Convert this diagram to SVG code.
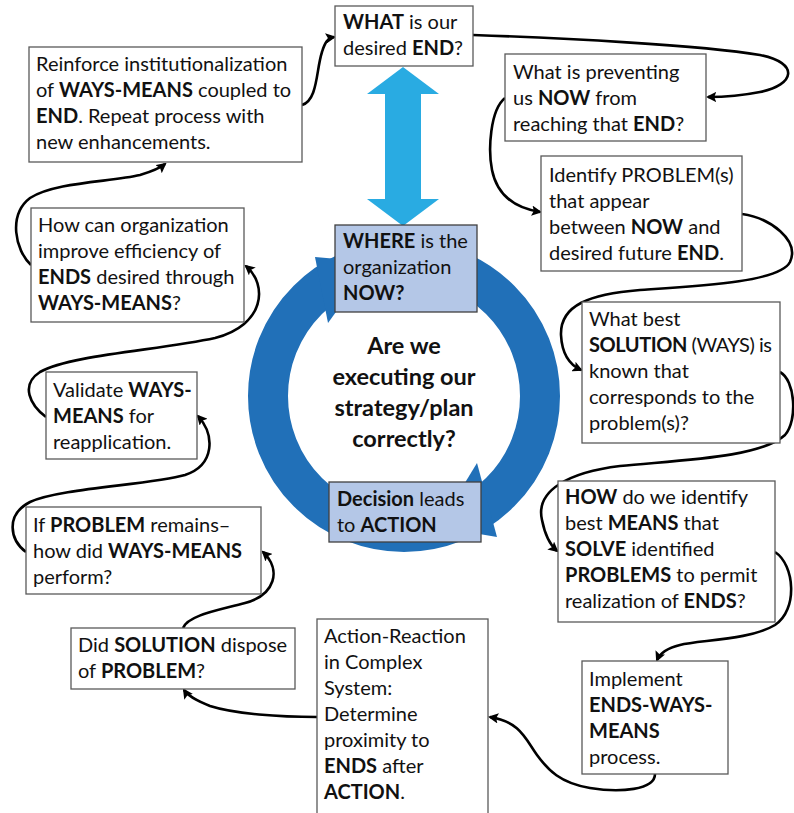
<svg xmlns="http://www.w3.org/2000/svg" width="794" height="813" viewBox="0 0 794 813">
  <style>
    .t{font-family:Lato,"Liberation Sans",sans-serif;font-size:20px;fill:#111}
    .c{font-family:Lato,"Liberation Sans",sans-serif;font-size:23.5px;font-weight:bold;fill:#111;text-anchor:middle}
    .b{font-weight:bold}
    .box{fill:#fff;stroke:#595959;stroke-width:1.3}
    .hl{fill:#b4c7e7;stroke:#404040;stroke-width:1.3}
    .conn{fill:none;stroke:#000;stroke-width:2.6;marker-end:url(#ah)}
  </style>
  <defs>
    <marker id="ah" viewBox="0 0 10 10" refX="8" refY="5" markerWidth="4" markerHeight="4" orient="auto" markerUnits="strokeWidth">
      <path d="M0,0 L10,5 L0,10 L2,5 z" fill="#000"/>
    </marker>
  </defs>

  <!-- circular cycle ring with two clockwise arrowheads -->
  <g id="cycle">
    <circle cx="404" cy="396" r="136" fill="none" stroke="#2170b8" stroke-width="40"/>
    <polygon points="315,257 372,262 328,323" fill="#2170b8"/>
    <polygon points="477,463 497,537 438,527" fill="#2170b8"/>
  </g>

  <!-- double-headed link between desired end and current state -->
  <g id="link">
    <polygon points="403,67 439,94 421,94 421,199 439,199 403,226 367,199 385,199 385,94 367,94" fill="#29abe2"/>
  </g>

  <!-- process flow connectors -->
  <g id="connectors">
    <path class="conn" d="M302,105 C318,100 316,70 322,52 C325,42 328,38 334,37"/>
    <path class="conn" d="M473,35 C560,38 700,45 760,55 C800,63 795,85 760,92 C740,96 722,97 708,97"/>
    <path class="conn" d="M505,98 C490,110 488,150 492,170 C497,195 515,208 540,212"/>
    <path class="conn" d="M742,214 C770,218 800,240 790,262 C780,282 700,286 640,290 C590,294 560,305 561,335 C562,355 570,365 581,370"/>
    <path class="conn" d="M780,372 C795,380 798,420 785,435 C760,458 680,460 620,466 C570,472 535,490 542,520 C545,535 550,545 557,551"/>
    <path class="conn" d="M775,552 C795,565 798,610 775,625 C750,640 700,640 680,645 C668,648 660,653 657,660"/>
    <path class="conn" d="M655,774 C655,790 620,793 590,788 C560,783 548,770 537,755 C525,738 520,722 490,717"/>
    <path class="conn" d="M317,717 C280,717 235,714 210,706 C195,700 188,696 184,690"/>
    <path class="conn" d="M183,628 C188,615 220,610 245,603 C275,595 282,570 263,552"/>
    <path class="conn" d="M26,552 C10,540 5,515 30,502 C60,488 150,485 185,475 C215,465 215,435 198,416"/>
    <path class="conn" d="M46,417 C30,405 20,385 40,372 C70,355 160,350 215,338 C265,325 268,285 246,266"/>
    <path class="conn" d="M31,265 C15,250 8,215 30,198 C55,182 110,182 140,175 C150,172 160,168 165,164"/>
  </g>

  <g id="what-end">
    <rect class="box" x="335" y="6" width="138" height="60"/>
    <text class="t" x="343" y="29"><tspan class="b">WHAT</tspan> is our<tspan x="343" dy="26">desired </tspan><tspan class="b">END</tspan>?</text>
  </g>

  <g id="preventing">
    <rect class="box" x="505" y="54" width="201" height="87"/>
    <text class="t" x="513" y="79">What is preventing<tspan x="513" dy="26">us </tspan><tspan class="b">NOW</tspan> from<tspan x="513" dy="26">reaching that </tspan><tspan class="b">END</tspan>?</text>
  </g>

  <g id="identify-problem">
    <rect class="box" x="541" y="156" width="201" height="115"/>
    <text class="t" x="549" y="182">Identify PROBLEM(s)<tspan x="549" dy="26">that appear</tspan><tspan x="549" dy="26">between </tspan><tspan class="b">NOW</tspan> and<tspan x="549" dy="26">desired future </tspan><tspan class="b">END</tspan>.</text>
  </g>

  <g id="best-solution">
    <rect class="box" x="582" y="302" width="198" height="141"/>
    <text class="t" x="589" y="326">What best</text>
    <text class="t" x="589" y="352" textLength="183" lengthAdjust="spacing"><tspan class="b">SOLUTION</tspan> (WAYS) is</text>
    <text class="t" x="589" y="378">known that<tspan x="589" dy="26">corresponds to the</tspan><tspan x="589" dy="26">problem(s)?</tspan></text>
  </g>

  <g id="best-means">
    <rect class="box" x="558" y="481" width="217" height="141"/>
    <text class="t" x="565" y="504"><tspan class="b">HOW</tspan> do we identify<tspan x="565" dy="26">best </tspan><tspan class="b">MEANS</tspan> that<tspan x="565" dy="26" class="b">SOLVE</tspan> identified<tspan x="565" dy="26" class="b">PROBLEMS</tspan> to permit<tspan x="565" dy="26">realization of </tspan><tspan class="b">ENDS</tspan>?</text>
  </g>

  <g id="implement">
    <rect class="box" x="582" y="661" width="146" height="113"/>
    <text class="t" x="589" y="686">Implement<tspan x="589" dy="26" class="b">ENDS-WAYS-</tspan><tspan x="589" dy="26" class="b">MEANS</tspan><tspan x="589" dy="26">process.</tspan></text>
  </g>

  <g id="action-reaction">
    <rect class="box" x="317" y="619" width="171" height="204"/>
    <text class="t" x="324" y="643">Action-Reaction<tspan x="324" dy="26">in Complex</tspan><tspan x="324" dy="26">System:</tspan><tspan x="324" dy="26">Determine</tspan><tspan x="324" dy="26">proximity to</tspan><tspan x="324" dy="26" class="b">ENDS</tspan> after<tspan x="324" dy="26" class="b">ACTION</tspan>.</text>
  </g>

  <g id="solution-check">
    <rect class="box" x="71" y="628" width="224" height="61"/>
    <text class="t" x="78" y="652">Did <tspan class="b">SOLUTION</tspan> dispose<tspan x="78" dy="26">of </tspan><tspan class="b">PROBLEM</tspan>?</text>
  </g>

  <g id="problem-remains">
    <rect class="box" x="26" y="507" width="235" height="87"/>
    <text class="t" x="33" y="532">If <tspan class="b">PROBLEM</tspan> remains–<tspan x="33" dy="26">how did </tspan><tspan class="b">WAYS-MEANS</tspan><tspan x="33" dy="26">perform?</tspan></text>
  </g>

  <g id="validate">
    <rect class="box" x="46" y="372" width="151" height="87"/>
    <text class="t" x="53" y="397">Validate <tspan class="b">WAYS-</tspan><tspan x="53" dy="26" class="b">MEANS</tspan> for<tspan x="53" dy="26">reapplication.</tspan></text>
  </g>

  <g id="efficiency">
    <rect class="box" x="31" y="208" width="213" height="114"/>
    <text class="t" x="38" y="232">How can organization<tspan x="38" dy="26">improve efficiency of</tspan><tspan x="38" dy="26" class="b">ENDS</tspan> desired through<tspan x="38" dy="26" class="b">WAYS-MEANS</tspan>?</text>
  </g>

  <g id="reinforce">
    <rect class="box" x="29" y="47" width="273" height="115"/>
    <text class="t" x="36" y="71">Reinforce institutionalization<tspan x="36" dy="26">of </tspan><tspan class="b">WAYS-MEANS</tspan> coupled to<tspan x="36" dy="26" class="b">END</tspan>. Repeat process with<tspan x="36" dy="26">new enhancements.</tspan></text>
  </g>

  <g id="where-now">
    <rect class="hl" x="335" y="225" width="142" height="87"/>
    <text class="t" x="343" y="248"><tspan class="b">WHERE</tspan> is the<tspan x="343" dy="26">organization</tspan><tspan x="343" dy="26" class="b">NOW?</tspan></text>
  </g>

  <g id="decision">
    <rect class="hl" x="329" y="482" width="152" height="60"/>
    <text class="t" x="337" y="506"><tspan class="b">Decision</tspan> leads<tspan x="337" dy="26">to </tspan><tspan class="b">ACTION</tspan></text>
  </g>

  <g id="question">
    <text class="c" x="404" y="354">Are we<tspan x="404" dy="31">executing our</tspan><tspan x="404" dy="31">strategy/plan</tspan><tspan x="404" dy="31">correctly?</tspan></text>
  </g>
</svg>
